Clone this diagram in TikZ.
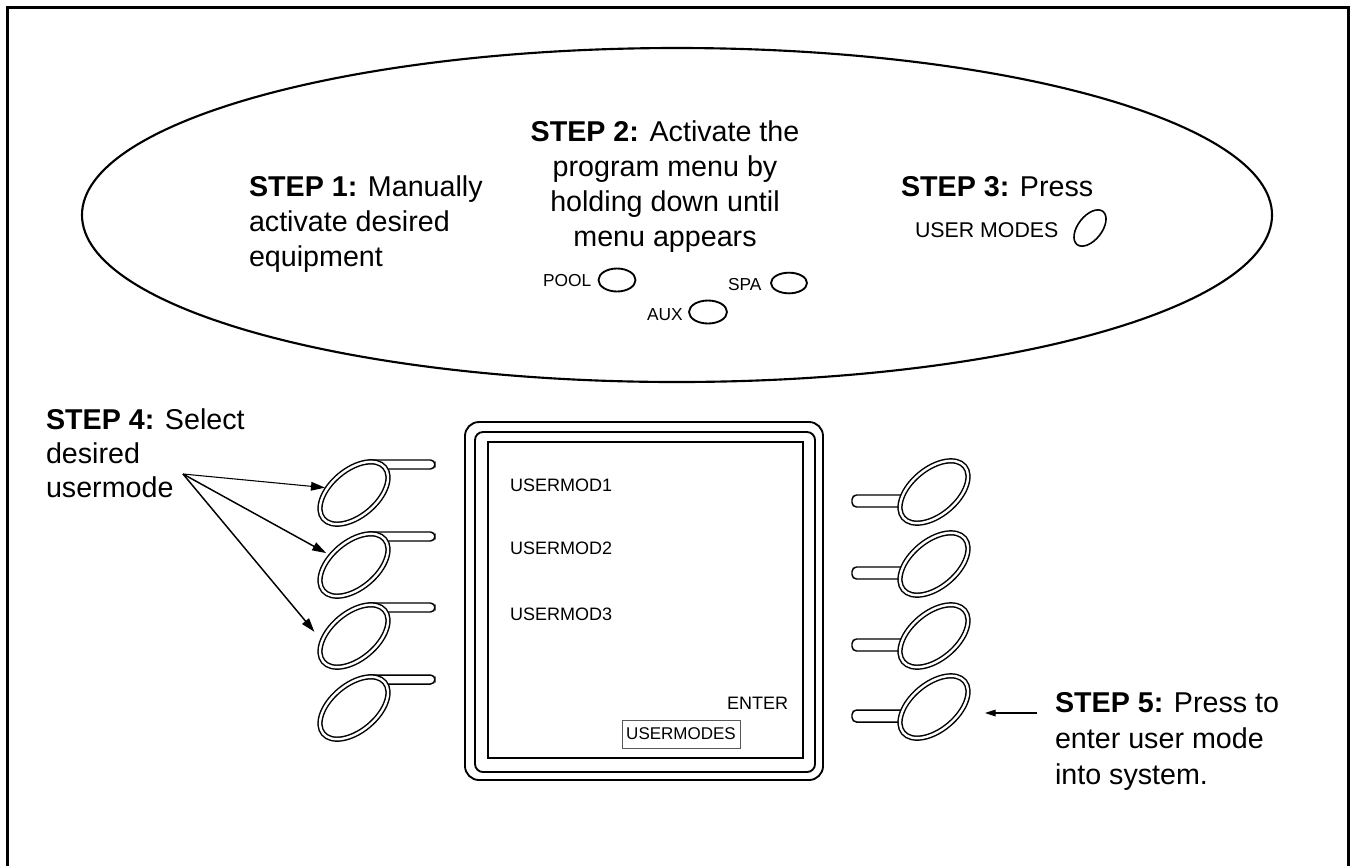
\documentclass[tikz,border=0pt]{standalone}
\usepackage{fontspec}
\setmainfont{Liberation Sans}
\usetikzlibrary{shapes.geometric,arrows.meta}
\begin{document}
\begin{tikzpicture}[x=0.75pt,y=-0.75pt,
  every node/.style={inner sep=0pt, outer sep=0pt},
  steptext/.style={font=\fontsize{21.5}{26.25}\selectfont, align=left},
  lbl/.style={font=\fontsize{13}{15}\selectfont},
  scr/.style={font=\fontsize{13.5}{16}\selectfont},
  bigbtn/.style={ellipse, draw=black, line width=1.1pt, double=white, double distance=1.8pt, fill=white, minimum width=60pt, minimum height=34.5pt, rotate=40},
  smallbtn/.style={ellipse, draw=black, line width=1.4pt, fill=white},
  stem/.style={draw=black, line width=1.1pt, rounded corners=3.4pt},
  frameline/.style={line width=2.2pt},
  panel/.style={line width=1.4pt},
  pointer/.style={line width=1.1pt, -{Triangle[length=10.5pt,width=6.5pt]}}
]
\useasboundingbox (0,0) rectangle (1351,865);
\draw[frameline] (7.5,900) -- (7.5,7.5) -- (1348.5,7.5) -- (1348.5,900);

% top control panel
\draw[line width=1.6pt] (677,215) ellipse [x radius=595, y radius=167];

\node[steptext, anchor=north west] (s1) at (249,176) {\textbf{STEP 1:} Manually\\activate desired\\equipment};
\node[steptext, align=center, anchor=north] (s2) at (665,121) {\textbf{STEP 2:} Activate the\\program menu by\\holding down until\\menu appears};
\node[steptext, anchor=north west] (s3) at (901,176) {\textbf{STEP 3:} Press};

\node[lbl, anchor=west] (poolt) at (543,281) {POOL};
\node[smallbtn, minimum width=27.75pt, minimum height=17.25pt] (pool) at (617,280) {};
\node[lbl, anchor=west] (spat) at (728,285) {SPA};
\node[smallbtn, minimum width=27pt, minimum height=15.5pt] (spa) at (789,283) {};
\node[lbl, anchor=west] (auxt) at (647,315) {AUX};
\node[smallbtn, minimum width=28.5pt, minimum height=17.25pt] (aux) at (708,312) {};
\node[font=\fontsize{16}{19}\selectfont, anchor=west] (umt) at (915,230) {USER MODES};
\node[smallbtn, line width=1.2pt, minimum width=31.5pt, minimum height=18pt, rotate=52] (umbtn) at (1090,228) {};

% screen
\draw[panel, rounded corners=10.5pt] (465,422) rectangle (823,780);
\draw[panel, rounded corners=6pt] (475,432) rectangle (815,772);
\draw[panel] (488,442) rectangle (803,758);
\node[scr, anchor=west] (m1) at (510,485) {USERMOD1};
\node[scr, anchor=west] (m2) at (510,548) {USERMOD2};
\node[scr, anchor=west] (m3) at (510,614) {USERMOD3};
\node[scr, anchor=east] (ent) at (788,703) {ENTER};
\node[font=\fontsize{12.75}{15}\selectfont, draw=black!65, line width=0.6pt, minimum width=88.5pt, minimum height=21pt] (umbox) at (681,734) {USERMODES};

% left buttons
\foreach \i/\y in {1/493,2/565,3/636,4/708}{
  \draw[stem] (368,\y-33) -- (435,\y-33) -- (435,\y-24) -- (368,\y-24);
  \node[bigbtn] (L\i) at (354,\y) {};
}
% right buttons
\foreach \i/\y in {1/492,2/564,3/636,4/707}{
  \draw[stem] (920,\y+3) -- (852,\y+3) -- (852,\y+15) -- (920,\y+15);
  \node[bigbtn] (R\i) at (934,\y) {};
}

% step 4
\node[steptext, font=\fontsize{21.5}{25.5}\selectfont, anchor=north west] (s4t) at (46,409) {\textbf{STEP 4:} Select\\desired\\usermode};
\coordinate (s4) at (183,474);
\draw[pointer, line width=0.8pt, shorten >=2pt] (s4) -- (L1.129);
\draw[pointer, shorten >=4pt] (s4) -- (L2.118);
\draw[pointer, shorten >=9pt] (s4) -- (L3.149);

% step 5
\node[steptext, font=\fontsize{21.5}{27}\selectfont, anchor=north west] (s5t) at (1055,692) {\textbf{STEP 5:} Press to\\enter user mode\\into system.};
\coordinate (s5) at (1037,713);
\draw[line width=0.8pt, -{Triangle[length=8pt,width=5pt]}, shorten >=38.25pt] (s5) -- (s5 -| R4);
\end{tikzpicture}
\end{document}
